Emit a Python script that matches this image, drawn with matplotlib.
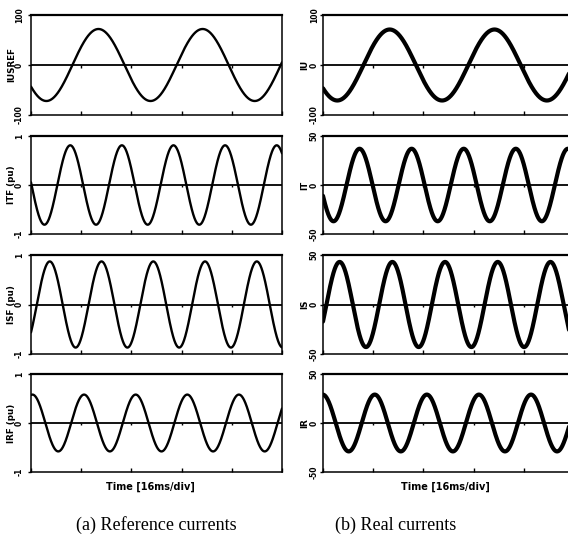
import numpy as np
import matplotlib
matplotlib.use('Agg')
import matplotlib.pyplot as plt

# time axis: 5 divisions of 16 ms
time_ticks = [0, 16, 32, 48, 64, 80]

# (a) reference currents
left_labels = ['IUSREF', 'ITF (pu)', 'ISF (pu)', 'IRF (pu)']
left_limits = [100, 1, 1, 1]
left_amp = [72, 0.81, 0.87, 0.58]
left_period = [33.2, 16.45, 16.5, 16.45]
left_zero_up = [13.2, 8.4, 1.85, 12.8]   # ms of first rising zero crossing

# (b) real currents
right_labels = ['IU', 'IT', 'IS', 'IR']
right_limits = [100, 50, 50, 50]
right_amp = [71, 37, 43, 29]
right_period = [33.4, 16.6, 16.8, 16.6]
right_zero_up = [12.9, 7.5, 1.1, 12.35]

fig = plt.figure(figsize=(5.68, 5.48), dpi=100)

W, H = 568.0, 548.0
rows_px = [(15, 115), (136, 234), (255, 354), (374, 472)]
cols = [
    dict(x0=31, labels=left_labels, lims=left_limits, amp=left_amp,
         per=left_period, z=left_zero_up, lw=1.7, lab_x=-0.06, pad=3),
    dict(x0=323, labels=right_labels, lims=right_limits, amp=right_amp,
         per=right_period, z=right_zero_up, lw=3.0, lab_x=-0.056, pad=1),
]

t = np.linspace(0, 80, 1200)

for c in cols:
    for i, (top, bot) in enumerate(rows_px):
        ax = fig.add_axes([c['x0'] / W, 1 - bot / H, 251 / W, (bot - top) / H])
        lim = c['lims'][i]
        y = c['amp'][i] * np.sin(2 * np.pi * (t - c['z'][i]) / c['per'][i])
        ax.plot(t, y, color='black', lw=c['lw'], solid_capstyle='round')
        ax.axhline(0, color='black', lw=1.3)
        ax.vlines(time_ticks[1:-1], -0.05 * lim, 0, color='black', lw=1.0)
        ax.set_xlim(0, 80)
        ax.set_ylim(-lim, lim)
        ax.set_xticks(time_ticks)
        ax.set_xticklabels([])
        ax.tick_params(axis='x', direction='in', length=3, width=1)
        ax.set_yticks([-lim, 0, lim])
        ax.set_yticklabels([str(-lim), '0', str(lim)], rotation=90,
                           va='center', fontsize=5.5, fontweight='bold')
        ax.tick_params(axis='y', length=2, width=1, pad=c['pad'])
        ax.set_ylabel(c['labels'][i], fontsize=6.3, fontweight='bold')
        ax.yaxis.set_label_coords(c['lab_x'], 0.5)
        for s in ['left', 'bottom', 'right']:
            ax.spines[s].set_linewidth(1.1)
        ax.spines['top'].set_linewidth(1.6)

fig.text(150 / W, 1 - 487 / H, 'Time [16ms/div]', fontsize=7,
         fontweight='bold', ha='center', va='center')
fig.text(445 / W, 1 - 487 / H, 'Time [16ms/div]', fontsize=7,
         fontweight='bold', ha='center', va='center')

fig.text(156 / W, 1 - 525 / H, '(a) Reference currents', family='Liberation Serif',
         fontsize=13, ha='center', va='center')
fig.text(396 / W, 1 - 525 / H, '(b) Real currents', family='Liberation Serif',
         fontsize=13, ha='center', va='center')

fig.savefig('out.png', dpi=100)
